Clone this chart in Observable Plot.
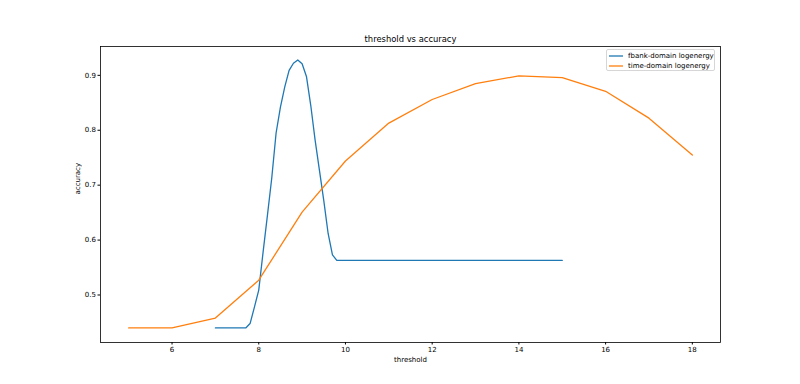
<!DOCTYPE html>
<html>
<head>
<meta charset="utf-8">
<script src="https://cdn.jsdelivr.net/npm/d3@7"></script>
<script src="https://cdn.jsdelivr.net/npm/@observablehq/plot@0.6"></script>
<style>
  html, body { margin: 0; padding: 0; background: #fff; }
  #wrap { position: relative; width: 800px; height: 384px; font-family: "DejaVu Sans", sans-serif; }
  #legend { position: absolute; left: 606px; top: 49px; width: 109px; height: 22px;
    border: 1px solid #d6d6d6; border-radius: 2px; background: rgba(255,255,255,0.8);
    font-size: 7px; color: #000; box-sizing: border-box; padding: 1px 0 0 2px; }
  .row { display: flex; align-items: center; height: 10px; white-space: nowrap; }
  .row svg { margin-right: 5px; }
</style>
</head>
<body>
<div id="wrap"></div>
<script>
const title = "threshold vs accuracy";
const xLabel = "threshold";
const yLabel = "accuracy";
const seriesNames = ["fbank-domain logenergy", "time-domain logenergy"];
const seriesColors = ["#1f77b4", "#ff7f0e"];

const fbankX = [7.0, 7.7, 7.8, 7.9, 8.0, 8.1, 8.2, 8.3, 8.4, 8.5, 8.6, 8.7, 8.8, 8.9, 9.0, 9.1, 9.2, 9.3, 9.4, 9.5, 9.6, 9.7, 9.8, 15.0];
const fbankY = [0.440, 0.440, 0.448, 0.478, 0.509, 0.578, 0.645, 0.713, 0.795, 0.842, 0.879, 0.909, 0.922, 0.928, 0.921, 0.898, 0.845, 0.782, 0.727, 0.672, 0.612, 0.573, 0.563, 0.563];

const timeX = [5, 6, 7, 8, 9, 10, 11, 12, 13, 14, 15, 16, 17, 18];
const timeY = [0.440, 0.440, 0.458, 0.527, 0.651, 0.744, 0.813, 0.856, 0.885, 0.899, 0.896, 0.871, 0.822, 0.755];

const xTicks = [6, 8, 10, 12, 14, 16, 18];
const yTicks = [0.5, 0.6, 0.7, 0.8, 0.9];

const fbank = fbankX.map((x, i) => ({x, y: fbankY[i]}));
const time = timeX.map((x, i) => ({x, y: timeY[i]}));

const chart = Plot.plot({
  width: 800,
  height: 384,
  marginLeft: 100,
  marginRight: 80,
  marginTop: 46,
  marginBottom: 42,
  style: {fontFamily: "DejaVu Sans", fontSize: "7px", color: "#000", background: "#fff"},
  x: {domain: [4.35, 18.65]},
  y: {domain: [0.4135, 0.9525]},
  marks: [
    Plot.line(fbank, {x: "x", y: "y", stroke: seriesColors[0], strokeWidth: 1.3}),
    Plot.line(time, {x: "x", y: "y", stroke: seriesColors[1], strokeWidth: 1.3}),
    Plot.frame({stroke: "#000", strokeWidth: 0.8}),
    Plot.axisX({ticks: xTicks, tickSize: 2.5, tickPadding: 2, tickFormat: d => String(d), label: null}),
    Plot.axisY({ticks: yTicks, tickSize: 2.5, tickPadding: 2, tickFormat: d => d.toFixed(1), label: null}),
    Plot.text([title], {text: d => d, frameAnchor: "top", dy: -7, fontSize: 8.4, lineAnchor: "middle"}),
    Plot.text([xLabel], {text: d => d, frameAnchor: "bottom", dy: 17, fontSize: 7, lineAnchor: "middle"}),
    Plot.text([yLabel], {text: d => d, frameAnchor: "left", dx: -23, rotate: -90, fontSize: 7, lineAnchor: "middle"})
  ]
});

const wrap = document.getElementById("wrap");
wrap.appendChild(chart);

const legend = document.createElement("div");
legend.id = "legend";
seriesNames.forEach((name, i) => {
  const row = document.createElement("div");
  row.className = "row";
  row.innerHTML = `<svg width="14" height="4"><line x1="0" y1="2" x2="14" y2="2" stroke="${seriesColors[i]}" stroke-width="1.3"/></svg><span>${name}</span>`;
  legend.appendChild(row);
});
wrap.appendChild(legend);
</script>
</body>
</html>
